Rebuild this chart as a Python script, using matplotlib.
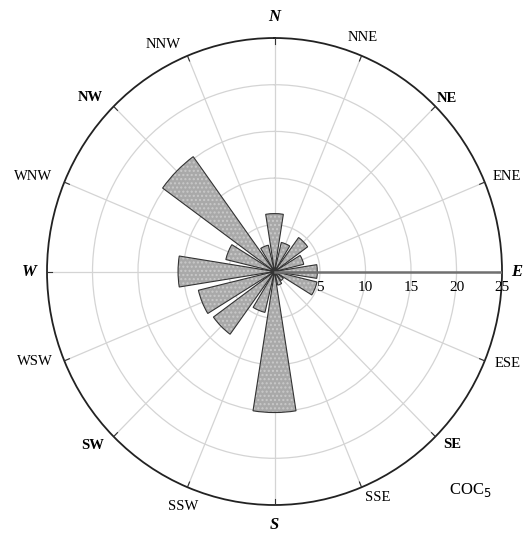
import numpy as np
import matplotlib.pyplot as plt

# 16 wind directions, clockwise from north
directions = ['N', 'NNE', 'NE', 'ENE', 'E', 'ESE', 'SE', 'SSE',
              'S', 'SSW', 'SW', 'WSW', 'W', 'WNW', 'NW', 'NNW']
frequency = [6.2, 3.2, 4.5, 3.3, 4.7, 4.8, 1.2, 1.5,
             15.1, 4.5, 8.3, 8.6, 10.6, 5.5, 15.2, 2.9]
ring_values = [5, 10, 15, 20, 25]
station = 'COC$_5$'

# label placement (angle in degrees, radius in data units)
label_angle = [0, 21.2, 45.6, 68.4, 90, 111, 133.6, 154.8,
               180, 201.7, 227, 249.8, 270, 290.9, 312.5, 333.2]
label_radius = [27.2, 26.9, 26.5, 27.5, 26.6, 27.4, 26.9, 26.7,
                27.1, 27.1, 27.3, 28.05, 26.9, 28.4, 27.5, 27.2]

plt.rcParams['font.family'] = ['Liberation Serif', 'DejaVu Serif']

fig = plt.figure(figsize=(5.27, 5.34), dpi=100)
ax = fig.add_axes([0.0892, 0.0543, 0.8634, 0.8745], projection='polar')
ax.set_aspect('auto')
ax.set_theta_zero_location('N')
ax.set_theta_direction(-1)
ax.set_ylim(0, 25)

angles = np.radians(np.arange(len(directions)) * 22.5)
width = np.radians(18)

# grid
ax.set_rgrids(ring_values[:-1], labels=[])
ax.set_thetagrids(np.degrees(angles), labels=[])
ax.grid(color='#d4d4d4', linewidth=0.9)
ax.spines['polar'].set_color('#222222')
ax.spines['polar'].set_linewidth(1.3)
ax.tick_params(length=0)

# bars: gray fill, dotted texture, dark outline
ax.bar(angles, frequency, width=width, bottom=0, color='#a9a9a9',
       edgecolor='none', zorder=3)
ax.bar(angles, frequency, width=width, bottom=0, facecolor='none',
       edgecolor='#c9c9c9', hatch='....', linewidth=0, zorder=3)
ax.bar(angles, frequency, width=width, bottom=0, facecolor='none',
       edgecolor='#333333', linewidth=0.8, zorder=4)

# small ticks on the outer circle
for a in angles:
    ax.plot([a, a], [24.4, 25], color='#333333', linewidth=0.8, zorder=5)

# radial axis towards E with its labels
ax.plot([np.pi / 2, np.pi / 2], [0, 25], color='#707070', linewidth=1.8, zorder=5)
for v in ring_values:
    ax.text(np.pi / 2 + np.arctan2(1.75, v), np.hypot(v, 1.75), str(v),
            ha='center', va='center', fontsize=11, zorder=6)

# direction labels
cardinal = {'N', 'E', 'S', 'W'}
inter = {'NE', 'SE', 'SW', 'NW'}
for la, lr, d in zip(label_angle, label_radius, directions):
    if d in cardinal:
        kw = dict(fontweight='bold', fontstyle='italic', fontsize=12)
    elif d in inter:
        kw = dict(fontweight='bold', fontsize=10.5)
    else:
        kw = dict(fontsize=10.5)
    ax.text(np.radians(la), lr, d, ha='center', va='center', clip_on=False, **kw)

fig.text(470 / 527, 1 - 490 / 534, station, ha='center', va='center', fontsize=12)

fig.savefig('out.png', dpi=100)
